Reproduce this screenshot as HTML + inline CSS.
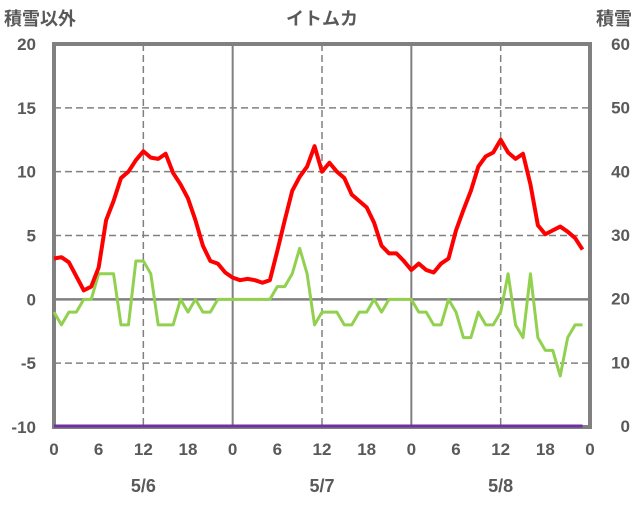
<!DOCTYPE html>
<html><head><meta charset="utf-8"><style>
body{margin:0;background:#fff;}
text{font-family:"Liberation Sans","Noto Sans CJK JP",sans-serif;fill:#595959;font-weight:bold;}
</style></head><body>
<svg id="chart" width="636" height="501" viewBox="0 0 636 501">
<g id="grid"></g>
<rect x="54" y="44" width="536" height="383" fill="none" stroke="#808080" stroke-width="4"/>
<g id="series"></g>
<g id="labels"></g>
<text x="322" y="25" text-anchor="middle" font-size="18">イトムカ</text>
<text x="4" y="25" font-size="18">積雪以外</text>
<text x="632" y="25" text-anchor="end" font-size="18">積雪</text>
</svg>
<script>
const hours=[];for(let i=0;i<72;i++)hours.push(i);
const tempValues=[3.2,3.3,2.9,1.8,0.7,1.0,2.5,6.2,7.7,9.5,10.0,10.9,11.6,11.1,11.0,11.4,9.9,9.0,7.9,6.2,4.2,3.0,2.8,2.1,
1.7,1.5,1.6,1.5,1.3,1.5,3.8,6.2,8.5,9.6,10.4,12.0,10.0,10.7,10.0,9.5,8.2,7.7,7.2,6.0,4.2,3.6,3.6,3.0,
2.3,2.8,2.3,2.1,2.8,3.2,5.4,7.0,8.5,10.4,11.2,11.5,12.5,11.5,11.0,11.4,9.0,5.8,5.1,5.4,5.7,5.3,4.8,3.9];
const otherValues=[-1,-2,-1,-1,0,0,2,2,2,-2,-2,3,3,2,-2,-2,-2,0,-1,0,-1,-1,0,0,
0,0,0,0,0,0,1,1,2,4,2,-2,-1,-1,-1,-2,-2,-1,-1,0,-1,0,0,0,
0,-1,-1,-2,-2,0,-1,-3,-3,-1,-2,-2,-1,2,-2,-3,2,-3,-4,-4,-6,-3,-2,-2];
const snowValues=new Array(72).fill(0);
const leftTicks=[20,15,10,5,0,-5,-10];
const rightTicks=[60,50,40,30,20,10,0];
const hourTicks=[0,6,12,18,0,6,12,18,0,6,12,18,0];
const dayLabels=["5/6","5/7","5/8"];
const L=54,R=590,T=44,B=427;
const x=h=>L+(R-L)*h/72;
const yL=v=>B-(v+10)/30*(B-T);
const yR=v=>B-1-v/60*(B-T-1);
const NS="http://www.w3.org/2000/svg";
function mk(tag,attrs,parent){const e=document.createElementNS(NS,tag);for(const k in attrs)e.setAttribute(k,attrs[k]);parent.appendChild(e);return e;}
const grid=document.getElementById('grid'),series=document.getElementById('series'),labels=document.getElementById('labels');
leftTicks.forEach(v=>{
  if(v===20||v===-10)return;
  const l=mk('line',{x1:L,x2:R,y1:yL(v),y2:yL(v),stroke:'#808080','stroke-width':v===0?2.5:1.5,'stroke-dasharray':v===0?'':'7 4'},grid);
  
  
});
for(let h=12;h<72;h+=12){
  const day=h%24===0;
  const l=mk('line',{x1:x(h),x2:x(h),y1:T,y2:B,stroke:'#808080','stroke-width':day?2:1.5,'stroke-dasharray':day?'':'7 4'},grid);
  
  
}
leftTicks.forEach(v=>{const t=mk('text',{x:36,y:yL(v)+6,'text-anchor':'end','font-size':17},labels);t.textContent=v;

});
rightTicks.forEach(v=>{const t=mk('text',{x:630,y:yR(v)+6,'text-anchor':'end','font-size':17},labels);t.textContent=v;

});
hourTicks.forEach((v,i)=>{const t=mk('text',{x:x(i*6),y:455,'text-anchor':'middle','font-size':17},labels);t.textContent=v;

});
dayLabels.forEach((d,i)=>{const t=mk('text',{x:x(12+24*i),y:492,'text-anchor':'middle','font-size':18,'font-weight':'normal'},labels);t.textContent=d;

});
function line(vals,fy,color,w,name){
  const p=mk('polyline',{points:vals.map((v,i)=>x(hours[i])+','+fy(v)).join(' '),fill:'none',stroke:color,'stroke-width':w,'stroke-linejoin':'round'},series);
  
  
}
line(snowValues,yR,'#7030a0',3,'snow-depth-line');
line(otherValues,yL,'#92d050',3,'secondary-line');
line(tempValues,yL,'#ff0000',4,'temperature-line');
</script>
</body></html>
